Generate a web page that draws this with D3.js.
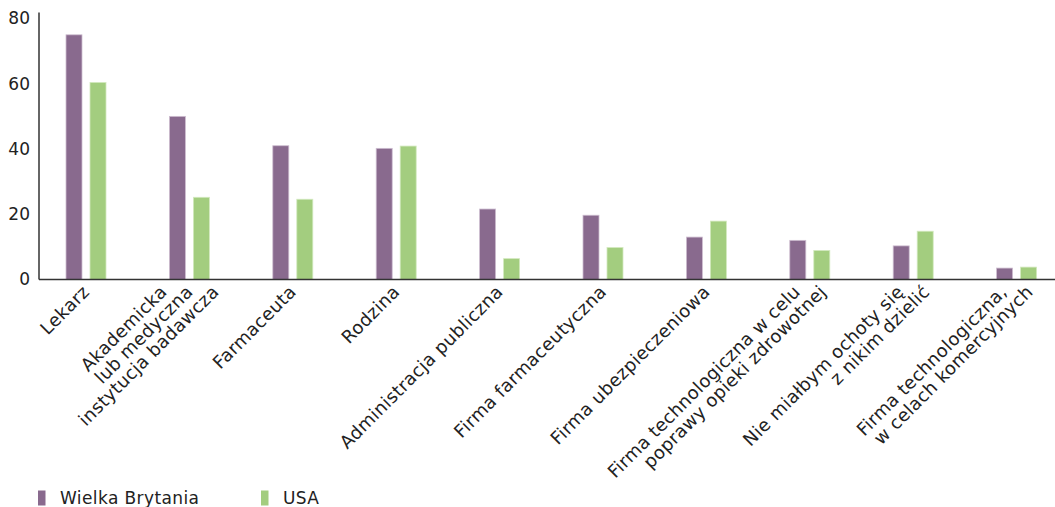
<!DOCTYPE html>
<html>
<head>
<meta charset="utf-8">
<script src="https://cdn.jsdelivr.net/npm/d3@7"></script>
<style>
  html, body { margin: 0; padding: 0; background: #fff; }
  svg { display: block; font-family: "DejaVu Sans", sans-serif; }
</style>
</head>
<body>
<svg id="chart" width="1055" height="507"></svg>
<script>
const categories = [
  "Lekarz",
  "Akademicka\nlub medyczna\ninstytucja badawcza",
  "Farmaceuta",
  "Rodzina",
  "Administracja publiczna",
  "Firma farmaceutyczna",
  "Firma ubezpieczeniowa",
  "Firma technologiczna w celu\npoprawy opieki zdrowotnej",
  "Nie miałbym ochoty się\nz nikim dzielić",
  "Firma technologiczna,\nw celach komercyjnych"
];
const seriesNames = ["Wielka Brytania", "USA"];
const valuesUK  = [75, 50, 41, 40.2, 21.6, 19.7, 13, 12, 10.3, 3.5];
const valuesUSA = [60.4, 25.2, 24.6, 40.9, 6.4, 9.8, 17.9, 8.9, 14.8, 3.8];
const yTicks = [0, 20, 40, 60, 80];
const colors = ["#896a8e", "#a3cd7f"];
const strokeColors = ["#cdbdd0", "#d3e9bf"];

const svg = d3.select("#chart");
const axisX0 = 39, baseY = 279.5;

const x = d3.scaleBand().domain(categories).range([34.3, 1068.3]).paddingInner(0).paddingOuter(0);
const xSub = d3.scaleBand().domain(seriesNames).range([-20, 20]).paddingInner(1/3).paddingOuter(0);
const y = d3.scaleLinear().domain([0, 80]).range([baseY, 18.5]);

const seriesValues = [valuesUK, valuesUSA];
const barData = [];
categories.forEach((c, i) => {
  seriesNames.forEach((s, j) => barData.push({ c, s, j, v: seriesValues[j][i] }));
});

svg.append("g").selectAll("rect").data(barData).join("rect")
  .attr("x", d => x(d.c) + x.bandwidth() / 2 + xSub(d.s))
  .attr("y", d => y(d.v))
  .attr("width", xSub.bandwidth())
  .attr("height", d => baseY - y(d.v))
  .attr("fill", d => colors[d.j])
  .attr("stroke", d => strokeColors[d.j])
  .attr("stroke-width", 0.8);

// y axis
const yAxis = d3.axisLeft(y).tickValues(yTicks).tickSize(0).tickPadding(9).tickFormat(d3.format("d"));
const gy = svg.append("g").attr("transform", `translate(${axisX0},0)`).call(yAxis);
gy.select(".domain").remove();
gy.selectAll("text").attr("font-size", 17).attr("fill", "#222").attr("font-family", "DejaVu Sans");
svg.append("line").attr("x1", axisX0).attr("x2", axisX0).attr("y1", 12.5).attr("y2", baseY)
  .attr("stroke", "#333").attr("stroke-width", 1.5);

// x axis
svg.append("line").attr("x1", axisX0).attr("x2", 1055).attr("y1", baseY).attr("y2", baseY)
  .attr("stroke", "#333").attr("stroke-width", 1.5);

const labG = svg.append("g");
categories.forEach(c => {
  const lines = c.split("\n");
  const n = lines.length;
  const cx = x(c) + x.bandwidth() / 2;
  lines.forEach((ln, i) => {
    const k = i - (n - 1) / 2;
    const ax = cx + 4.5 + k * 26;
    const ay = 293;
    labG.append("text")
      .attr("transform", `translate(${ax},${ay}) rotate(-45)`)
      .attr("text-anchor", "end")
      .attr("font-size", 18)
      .attr("letter-spacing", 0.3)
      .attr("fill", "#222")
      .text(ln);
  });
});

// legend
const leg = svg.append("g");
const legX = [38, 261];
seriesNames.forEach((s, j) => {
  leg.append("rect").attr("x", legX[j]).attr("y", 490.5).attr("width", 7.5).attr("height", 15).attr("fill", colors[j]);
  leg.append("text").attr("x", legX[j] + 22).attr("y", 504).attr("font-size", 17)
    .attr("letter-spacing", 0.4).attr("fill", "#222").text(s);
});
</script>
</body>
</html>
